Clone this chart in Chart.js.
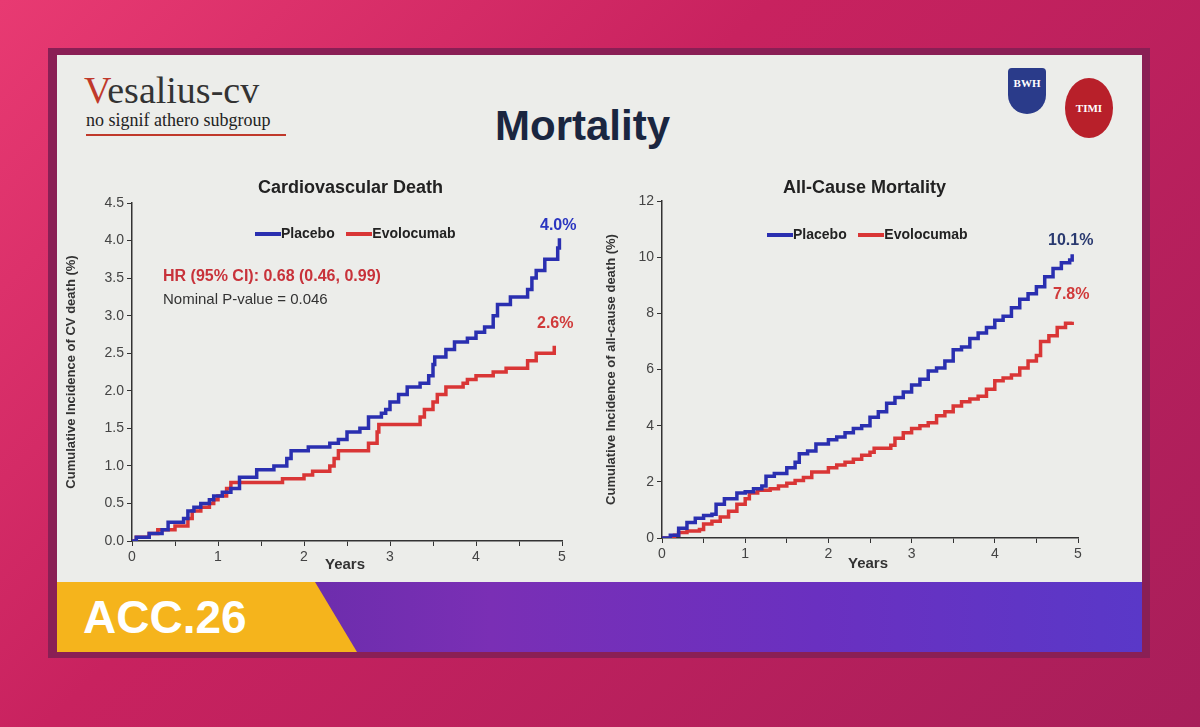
<!DOCTYPE html>
<html><head><meta charset="utf-8">
<script src="https://cdn.jsdelivr.net/npm/chart.js@4/dist/chart.umd.min.js"></script>
<style>
body{margin:0;width:1200px;height:727px;overflow:hidden;background:linear-gradient(135deg,#e83a72 0%,#c8225f 40%,#a81e5a 100%);font-family:"Liberation Sans",Arial,sans-serif;position:relative}
#frame{position:absolute;left:48px;top:48px;width:1102px;height:610px;background:#8a1f55;}
#slide{position:absolute;left:57px;top:55px;width:1085px;height:535px;background:#ecedea;}
#banner{position:absolute;left:57px;top:582px;width:1085px;height:70px;background:linear-gradient(90deg,#5a2aa0 0%,#7a2fb5 40%,#6a30c0 70%,#5a38c8 100%);}
#acc{position:absolute;left:57px;top:582px;width:300px;height:70px;background:#f5b41c;clip-path:polygon(0 0,86% 0,100% 100%,0 100%)}
#acc span{position:absolute;left:26px;top:8px;font:bold 46px "Liberation Sans";color:#fff}
.t{position:absolute;white-space:nowrap}
canvas{position:absolute}
.lg{display:inline-block;width:26px;height:4px;vertical-align:middle}
</style></head><body>
<div id="frame"></div><div id="slide"></div><div id="banner"></div><div id="acc"><span>ACC.26</span></div>
<div class="t" style="left:84px;top:68px;font:38px 'Liberation Serif';color:#333"><span style="color:#c0392b">V</span>esalius-cv</div>
<div class="t" style="left:86px;top:110px;font:18px 'Liberation Serif';color:#222">no signif athero subgroup</div>
<div class="t" style="left:86px;top:134px;width:200px;height:2px;background:#c0392b"></div>
<div class="t" style="left:495px;top:102px;font:bold 42px 'Liberation Sans';color:#1a2640">Mortality</div>
<div class="t" style="left:1008px;top:68px;width:38px;height:46px;background:#2a3b8a;border-radius:4px 4px 20px 20px;color:#fff;font:bold 11px 'Liberation Serif';text-align:center;line-height:30px">BWH</div>
<div class="t" style="left:1065px;top:78px;width:48px;height:60px;background:#b8202a;border-radius:50%;color:#fff;font:bold 11px 'Liberation Serif';text-align:center;line-height:60px">TIMI</div>
<canvas id="c1" width="530" height="400" style="left:60px;top:175px;width:530px;height:400px"></canvas>
<canvas id="c2" width="520" height="400" style="left:600px;top:175px;width:520px;height:400px"></canvas>
<div class="t" style="left:258px;top:177px;font:bold 18px 'Liberation Sans';color:#222">Cardiovascular Death</div>
<div class="t" style="left:783px;top:177px;font:bold 18px 'Liberation Sans';color:#222">All-Cause Mortality</div>
<div class="t" style="left:255px;top:225px;font:bold 14px 'Liberation Sans';color:#222"><span class="lg" style="background:#2a2fb0"></span>Placebo &nbsp;&nbsp;<span class="lg" style="background:#d93636"></span>Evolocumab</div>
<div class="t" style="left:767px;top:226px;font:bold 14px 'Liberation Sans';color:#222"><span class="lg" style="background:#2a2fb0"></span>Placebo &nbsp;&nbsp;<span class="lg" style="background:#d93636"></span>Evolocumab</div>
<div class="t" style="left:163px;top:267px;font:bold 16px 'Liberation Sans';color:#c8323a">HR (95% CI): 0.68 (0.46, 0.99)</div>
<div class="t" style="left:163px;top:290px;font:15px 'Liberation Sans';color:#333">Nominal P-value = 0.046</div>
<div class="t" style="left:540px;top:216px;font:bold 16px 'Liberation Sans';color:#2a35c0">4.0%</div>
<div class="t" style="left:537px;top:314px;font:bold 16px 'Liberation Sans';color:#d03a3a">2.6%</div>
<div class="t" style="left:1048px;top:231px;font:bold 16px 'Liberation Sans';color:#2a3a70">10.1%</div>
<div class="t" style="left:1053px;top:285px;font:bold 16px 'Liberation Sans';color:#d03a3a">7.8%</div>
<div class="t" style="left:325px;top:555px;font:bold 15px 'Liberation Sans';color:#333">Years</div>
<div class="t" style="left:848px;top:554px;font:bold 15px 'Liberation Sans';color:#333">Years</div>
<script>
const cvPlaceboX=[0,0.05,0.2,0.35,0.42,0.6,0.65,0.72,0.8,0.9,0.95,1.05,1.15,1.25,1.45,1.65,1.8,1.85,2.05,2.3,2.4,2.5,2.65,2.75,2.9,2.95,3.0,3.1,3.2,3.35,3.45,3.5,3.52,3.65,3.75,3.9,4.0,4.1,4.2,4.25,4.4,4.6,4.65,4.7,4.8,4.95,4.97];
const cvPlaceboY=[0,0.05,0.1,0.15,0.25,0.3,0.4,0.45,0.5,0.55,0.6,0.65,0.7,0.85,0.95,1.0,1.1,1.2,1.25,1.3,1.35,1.45,1.5,1.65,1.7,1.75,1.85,1.95,2.05,2.1,2.2,2.35,2.45,2.55,2.65,2.7,2.78,2.85,3.0,3.15,3.25,3.35,3.5,3.6,3.75,3.9,4.03];
const cvEvoX=[0,0.05,0.2,0.3,0.5,0.65,0.7,0.8,0.9,0.95,1.0,1.1,1.15,1.75,2.0,2.1,2.3,2.35,2.4,2.75,2.85,2.87,3.35,3.4,3.5,3.55,3.65,3.85,3.9,4.0,4.2,4.35,4.6,4.7,4.9,4.91];
const cvEvoY=[0,0.05,0.1,0.15,0.2,0.3,0.4,0.45,0.5,0.55,0.6,0.7,0.78,0.83,0.88,0.93,1.0,1.1,1.2,1.3,1.45,1.55,1.65,1.75,1.85,1.95,2.05,2.1,2.15,2.2,2.25,2.3,2.4,2.5,2.5,2.6];
const acPlaceboX=[0,0.1,0.2,0.3,0.4,0.5,0.6,0.65,0.75,0.9,1.0,1.1,1.2,1.25,1.35,1.5,1.6,1.65,1.75,1.85,2.0,2.1,2.2,2.3,2.4,2.5,2.6,2.7,2.8,2.9,3.0,3.1,3.2,3.3,3.4,3.5,3.6,3.7,3.8,3.9,4.0,4.1,4.2,4.3,4.4,4.5,4.6,4.7,4.8,4.9,4.93];
const acPlaceboY=[0,0.1,0.35,0.55,0.7,0.8,0.85,1.2,1.4,1.6,1.65,1.75,1.85,2.2,2.3,2.5,2.7,3.0,3.1,3.35,3.5,3.6,3.75,3.9,4.0,4.3,4.5,4.8,5.0,5.2,5.45,5.65,5.95,6.05,6.3,6.7,6.8,7.1,7.3,7.5,7.75,7.9,8.2,8.5,8.7,8.95,9.3,9.6,9.8,9.9,10.1];
const acEvoX=[0,0.15,0.2,0.3,0.45,0.5,0.6,0.7,0.8,0.9,1.0,1.05,1.15,1.3,1.4,1.5,1.6,1.7,1.8,2.0,2.1,2.2,2.3,2.4,2.5,2.55,2.75,2.8,2.9,3.0,3.1,3.2,3.3,3.4,3.5,3.6,3.7,3.8,3.9,4.0,4.1,4.2,4.3,4.4,4.5,4.55,4.65,4.75,4.85,4.93];
const acEvoY=[0,0.1,0.2,0.25,0.3,0.5,0.6,0.75,0.95,1.2,1.4,1.6,1.7,1.75,1.85,1.95,2.05,2.15,2.35,2.5,2.6,2.7,2.8,2.95,3.05,3.2,3.3,3.55,3.75,3.9,4.0,4.1,4.35,4.5,4.7,4.85,4.95,5.05,5.3,5.6,5.7,5.8,6.05,6.3,6.5,7.0,7.2,7.5,7.65,7.7];
const xTicks=[0,1,2,3,4,5];

const pts=(xs,ys)=>xs.map((x,i)=>({x,y:ys[i]}));
const F={family:"Liberation Sans",size:14};
function make(id,pX,pY,eX,eY,ymax,ystep,yfmt,ytitle,yw,xh,pad){
  new Chart(document.getElementById(id),{type:'line',
    data:{datasets:[
      {data:pts(pX,pY),borderColor:'#2a2fb0',borderWidth:3.5,stepped:true,pointRadius:0,fill:false},
      {data:pts(eX,eY),borderColor:'#d93636',borderWidth:3.5,stepped:true,pointRadius:0,fill:false}]},
    options:{responsive:false,animation:false,events:[],
      layout:{padding:pad},
      plugins:{legend:{display:false},tooltip:{enabled:false}},
      scales:{
        x:{type:'linear',min:0,max:5,border:{color:'#333',width:1.5},
          grid:{display:true,drawOnChartArea:false,tickLength:5,color:'#333'},
          ticks:{stepSize:0.5,color:'#444',font:F,callback:v=>xTicks.includes(v)?String(v):''},
          afterFit:s=>{s.height=xh}},
        y:{min:0,max:ymax,border:{color:'#333',width:1.5},
          grid:{display:true,drawOnChartArea:false,tickLength:5,color:'#333'},
          ticks:{stepSize:ystep,color:'#444',font:F,callback:yfmt},
          title:{display:true,text:ytitle,color:'#333',font:{family:"Liberation Sans",size:13,weight:'bold'}},
          afterFit:s=>{s.width=yw}}
      }}});
}
make('c1',cvPlaceboX,cvPlaceboY,cvEvoX,cvEvoY,4.5,0.5,v=>v.toFixed(1),'Cumulative Incidence of CV death (%)',72,34,{top:28,right:28,left:0,bottom:0});
make('c2',acPlaceboX,acPlaceboY,acEvoX,acEvoY,12,2,v=>String(v),'Cumulative Incidence of all-cause death (%)',62,37,{top:26,right:42,left:0,bottom:0});
</script>
</body></html>
